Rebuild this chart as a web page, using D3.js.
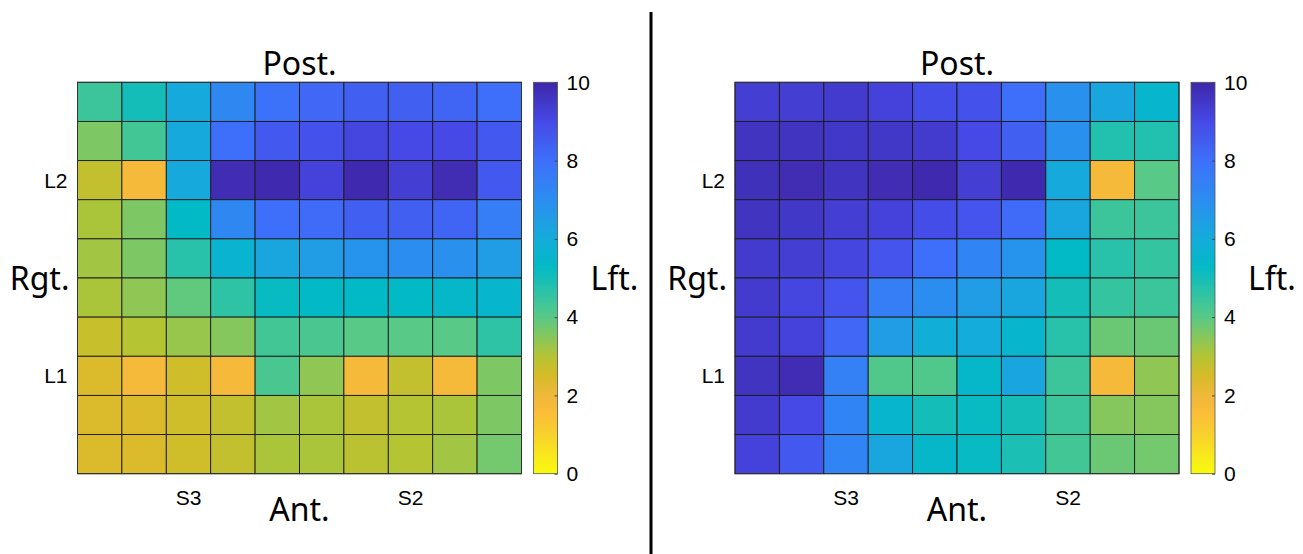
<!DOCTYPE html>
<html>
<head>
<meta charset="utf-8">
<script src="https://cdn.jsdelivr.net/npm/d3@7"></script>
<style>
  body { margin: 0; background: #fff; }
  svg { display: block; }
</style>
</head>
<body>
<div class="heat_chart"></div>
<script>
// grid index (columns run left -> right, rows run Post. -> Ant.)
const cols = d3.range(10)
const rows = d3.range(10)
const xTicks = [2, 7]
const xTickLabels = ['S3', 'S2']
const yTicks = [2, 7]
const yTickLabels = ['L2', 'L1']
const cbTicks = [0, 2, 4, 6, 8, 10]

// values, one row per line, top row first
const leftGrid = [
  [4.4, 5.0, 6.1, 7.2, 7.9, 8.2, 8.4, 8.4, 8.3, 8.0],
  [3.6, 4.3, 6.1, 8.0, 8.6, 8.8, 9.1, 9.0, 9.0, 8.6],
  [2.8, 1.8, 6.1, 9.8, 9.9, 9.2, 9.9, 9.3, 9.8, 8.6],
  [3.1, 3.6, 5.3, 7.2, 8.0, 8.1, 8.4, 8.4, 8.3, 7.5],
  [3.2, 3.6, 4.7, 5.6, 6.2, 6.5, 6.8, 7.0, 6.9, 6.5],
  [3.1, 3.4, 3.9, 4.6, 5.2, 5.3, 5.3, 5.3, 5.4, 5.5],
  [2.7, 3.0, 3.3, 3.5, 4.3, 4.2, 4.0, 4.0, 4.0, 4.6],
  [2.4, 1.8, 2.6, 1.8, 4.2, 3.4, 1.8, 2.8, 1.8, 3.6],
  [2.4, 2.4, 2.6, 2.8, 3.2, 3.1, 2.8, 3.0, 3.1, 3.6],
  [2.4, 2.4, 2.6, 2.8, 3.1, 3.1, 2.9, 3.0, 3.2, 3.7]
]
const rightGrid = [
  [9.3, 9.3, 9.4, 9.2, 8.9, 8.8, 8.0, 6.9, 6.2, 5.5],
  [9.6, 9.6, 9.5, 9.5, 9.4, 9.0, 8.4, 6.9, 4.8, 4.8],
  [9.7, 9.8, 9.6, 9.8, 9.9, 9.3, 9.9, 6.1, 1.8, 4.0],
  [9.6, 9.5, 9.3, 9.2, 8.9, 8.7, 8.1, 6.2, 4.4, 4.4],
  [9.4, 9.3, 9.1, 8.7, 8.0, 7.3, 6.8, 5.3, 4.7, 4.5],
  [9.4, 9.1, 8.7, 7.5, 7.0, 6.5, 6.2, 5.0, 4.5, 4.4],
  [9.4, 9.2, 8.2, 6.5, 5.9, 6.0, 5.5, 4.7, 3.8, 3.8],
  [9.6, 9.8, 7.4, 4.1, 4.1, 5.4, 6.2, 4.4, 1.8, 3.4],
  [9.4, 9.0, 7.3, 5.5, 5.0, 5.2, 5.0, 4.4, 3.5, 3.5],
  [9.2, 8.6, 7.3, 6.2, 5.4, 5.2, 4.9, 4.3, 3.8, 3.7]
]

// parula, flipped so 0 is yellow and 10 is dark blue
const parulaStops = [0, 1, 1.6, 2, 2.5, 3, 4, 4.5, 5.3, 6, 7, 8, 9, 10]
const parulaColors = ['#f9fb0e', '#f8d22c', '#fbbb3a', '#eeb93a', '#d6bb28', '#b4c433', '#58c986',
  '#35c4a0', '#02b9c6', '#14acda', '#2b8df0', '#3e6ffa', '#4649e6', '#3e26a8']
const color = d3.scaleLinear().domain(parulaStops).range(parulaColors).interpolate(d3.interpolateRgb)

const width = 1303
const height = 554
const mapTop = 82.3
const mapW = 444
const mapH = 391.4
const labelFont = '"Noto Sans", "Open Sans", sans-serif'
const tickFont = '"Liberation Sans", Arial, sans-serif'

const svg = d3.select('.heat_chart').append('svg')
  .attr('width', width)
  .attr('height', height)

const defs = svg.append('defs')
const grad = defs.append('linearGradient')
  .attr('id', 'cbgrad')
  .attr('x1', 0).attr('y1', 1).attr('x2', 0).attr('y2', 0)
d3.range(0, 10.001, 0.25).forEach((v) => {
  grad.append('stop').attr('offset', v / 10).attr('stop-color', color(v))
})

function drawPanel (grid, left) {
  const x = d3.scaleBand().domain(cols).range([left, left + mapW])
  const y = d3.scaleBand().domain(rows).range([mapTop, mapTop + mapH])
  const g = svg.append('g')

  const cells = []
  grid.forEach((row, r) => row.forEach((v, c) => cells.push({r, c, v})))

  g.selectAll('.cell')
    .data(cells)
    .enter().append('rect')
    .attr('class', 'cell')
    .attr('x', d => x(d.c))
    .attr('y', d => y(d.r))
    .attr('width', x.bandwidth())
    .attr('height', y.bandwidth())
    .style('fill', d => color(d.v))
    .style('stroke', '#1a1a1a')
    .style('stroke-width', 0.9)

  g.append('rect')
    .attr('x', left).attr('y', mapTop)
    .attr('width', mapW).attr('height', mapH)
    .style('fill', 'none')
    .style('stroke', '#333')
    .style('stroke-width', 1)

  g.selectAll('.xt')
    .data(xTicks)
    .enter().append('text')
    .attr('x', d => x(d) + x.bandwidth() / 2)
    .attr('y', mapTop + mapH + 31)
    .attr('text-anchor', 'middle')
    .style('font-family', tickFont)
    .style('font-size', '21px')
    .text((d, i) => xTickLabels[i])

  g.selectAll('.yt')
    .data(yTicks)
    .enter().append('text')
    .attr('x', left - 10)
    .attr('y', d => y(d) + y.bandwidth() / 2)
    .attr('dy', '0.36em')
    .attr('text-anchor', 'end')
    .style('font-family', tickFont)
    .style('font-size', '21px')
    .text((d, i) => yTickLabels[i])

  const mid = left + mapW / 2
  const label = (tx, ty, txt, anchor) => g.append('text')
    .attr('x', tx).attr('y', ty)
    .attr('text-anchor', anchor)
    .style('font-family', labelFont)
    .style('font-size', '32px')
    .text(txt)
  label(mid, mapTop - 7, 'Post.', 'middle')
  label(mid, mapTop + mapH + 47, 'Ant.', 'middle')
  label(left - 8, mapTop + mapH / 2 + 12, 'Rgt.', 'end')

  // colorbar
  const cbX = left + 456
  const cbW = 24
  const cy = d3.scaleLinear().domain([0, 10]).range([mapTop + mapH, mapTop])
  g.append('rect')
    .attr('x', cbX).attr('y', mapTop)
    .attr('width', cbW).attr('height', mapH)
    .style('fill', 'url(#cbgrad)')
    .style('stroke', '#555')
    .style('stroke-width', 0.8)

  const axis = g.append('g')
    .attr('transform', 'translate(' + (cbX + cbW) + ',0)')
    .call(d3.axisRight(cy).tickValues(cbTicks).tickSize(-3).tickPadding(9))
  axis.select('.domain').remove()
  axis.selectAll('.tick line').attr('stroke', '#444')
  axis.selectAll('text')
    .style('font-family', tickFont)
    .style('font-size', '21px')
    .attr('fill', '#000')

  label(cbX + cbW + 33, mapTop + mapH / 2 + 12, 'Lft.', 'start')
}

drawPanel(leftGrid, 77.5)
drawPanel(rightGrid, 735)

// divider between the two panels
svg.append('line')
  .attr('x1', 651).attr('x2', 651)
  .attr('y1', 12).attr('y2', height)
  .style('stroke', '#000')
  .style('stroke-width', 3)
</script>
</body>
</html>
